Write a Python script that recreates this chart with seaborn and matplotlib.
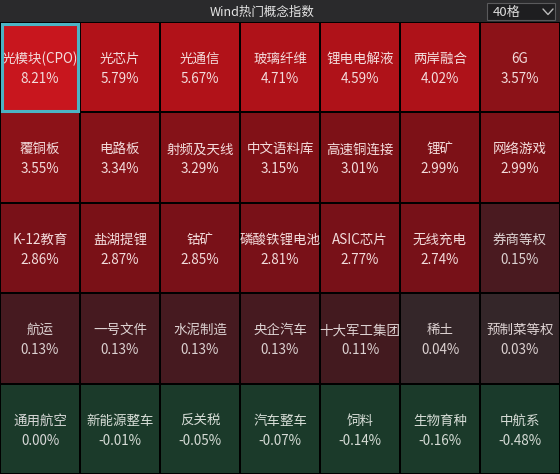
import numpy as np
import pandas as pd
import matplotlib
matplotlib.use("Agg")
import matplotlib.pyplot as plt
import seaborn as sns
from matplotlib.colors import LinearSegmentedColormap
from matplotlib.patches import Rectangle
from matplotlib.lines import Line2D

sns.set_theme(style="white")
plt.rcParams['font.family'] = ['Noto Sans CJK SC', 'DejaVu Sans']

title = "Wind热门概念指数"
grid_option = "40格"

names = [
    "光模块(CPO)", "光芯片", "光通信", "玻璃纤维", "锂电电解液", "两岸融合", "6G",
    "覆铜板", "电路板", "射频及天线", "中文语料库", "高速铜连接", "锂矿", "网络游戏",
    "K-12教育", "盐湖提锂", "钴矿", "磷酸铁锂电池", "ASIC芯片", "无线充电", "券商等权",
    "航运", "一号文件", "水泥制造", "央企汽车", "十大军工集团", "稀土", "预制菜等权",
    "通用航空", "新能源整车", "反关税", "汽车整车", "饲料", "生物育种", "中航系",
]
changes = [
    8.21, 5.79, 5.67, 4.71, 4.59, 4.02, 3.57,
    3.55, 3.34, 3.29, 3.15, 3.01, 2.99, 2.99,
    2.86, 2.87, 2.85, 2.81, 2.77, 2.74, 0.15,
    0.13, 0.13, 0.13, 0.13, 0.11, 0.04, 0.03,
    0.00, -0.01, -0.05, -0.07, -0.14, -0.16, -0.48,
]
n_cols = 7
n_rows = 5

vals = np.array(changes).reshape(n_rows, n_cols)
labels = np.array([f"{n}\n{v:.2f}%" for n, v in zip(names, changes)]).reshape(n_rows, n_cols)
df = pd.DataFrame(vals)

# colour anchors (value -> colour)
vmin, vmax = -0.5, 8.21
anchors = [(-0.5, "#1a3a2b"), (-0.01, "#1b3a2a"), (0.0, "#2d2e30"),
           (0.03, "#3e1a1f"), (0.15, "#4a1a20"), (2.74, "#771118"),
           (3.0, "#7d1117"), (3.57, "#8c1218"), (4.0, "#ae1219"),
           (5.8, "#b11219"), (8.21, "#c8161e")]
cmap = LinearSegmentedColormap.from_list(
    "wind", [((v - vmin) / (vmax - vmin), c) for v, c in anchors])

W, H, dpi = 560, 474, 100
fig = plt.figure(figsize=(W / dpi, H / dpi), dpi=dpi)
fig.patch.set_facecolor("#1b1b1d")

header_h = 22
# header background
fig.patches.append(Rectangle((0, 1 - header_h / H), 1, header_h / H,
                             transform=fig.transFigure, facecolor="#2a2a2c",
                             edgecolor="none", zorder=0))
fig.text(262 / W, 1 - 12 / H, title, ha="center", va="center",
         color="#e6e6e6", fontsize=9)
# dropdown box
fig.patches.append(Rectangle((487 / W, 1 - 20 / H), 68 / W, 17 / H,
                             transform=fig.transFigure, facecolor="#1e1e20",
                             edgecolor="#5a5a5c", lw=0.8, zorder=1))
fig.text(493 / W, 1 - 12 / H, grid_option, ha="left", va="center",
         color="#dcdcdc", fontsize=9.5, zorder=2)
fig.lines.append(Line2D([543 / W, 548 / W, 553 / W],
                        [1 - 9 / H, 1 - 14.5 / H, 1 - 9 / H],
                        transform=fig.transFigure, color="#bbbbbb", lw=1.0,
                        zorder=3))

ax = fig.add_axes([0, 0, 1, (H - header_h) / H])
sns.heatmap(df, ax=ax, cmap=cmap, vmin=vmin, vmax=vmax, cbar=False,
            linewidths=1.3, linecolor="black",
            annot=labels, fmt="",
            annot_kws={"fontsize": 9.7, "linespacing": 1.55, "color": "#eedada"})
for t, v in zip(ax.texts, changes):
    if v >= 2.5:
        t.set_color("#f3dcdc")
    elif v > 0:
        t.set_color("#ddd2d2")
    elif v == 0:
        t.set_color("#d8d8d8")
    else:
        t.set_color("#d6dcd6")
    x, y = t.get_position()
    t.set_position((x, y + 0.02))
ax.set_xticks([])
ax.set_yticks([])
ax.set_xlabel("")
ax.set_ylabel("")
for s in ax.spines.values():
    s.set_visible(False)

# selected cell outline
ax.add_patch(Rectangle((0.02, 0.02), 0.96, 0.96, fill=False,
                       edgecolor="#4cb4c4", lw=2.2, zorder=5))

fig.savefig("out.png", dpi=dpi, facecolor=fig.get_facecolor())
